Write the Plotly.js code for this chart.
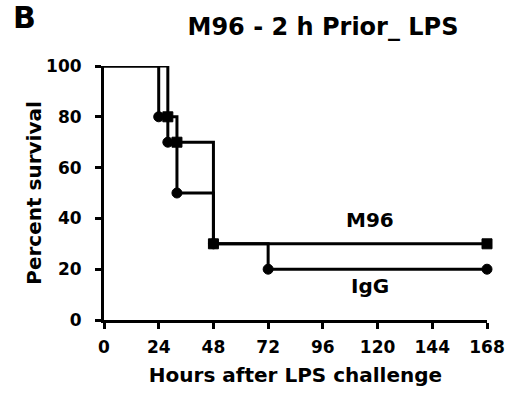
<!DOCTYPE html>
<html>
<head>
<meta charset="utf-8">
<script src="https://cdn.plot.ly/plotly-3.0.1.min.js"></script>
<style>html,body{margin:0;padding:0;background:#fff;}#chart{width:507px;height:402px;}</style>
</head>
<body>
<div id="chart"></div>
<script>
// Kaplan-Meier step data (hours, percent survival)
const igg_hours = [0, 24, 28, 32, 48, 72, 168];
const igg_survival = [100, 80, 70, 50, 30, 20, 20];
const m96_hours = [0, 28, 32, 48, 168];
const m96_survival = [100, 80, 70, 30, 30];
const x_ticks = [0, 24, 48, 72, 96, 120, 144, 168];
const y_ticks = [0, 20, 40, 60, 80, 100];
const series_labels = ['IgG', 'M96'];

const FONT = 'DejaVu Sans';

function sizes(n, s) { return Array.from({length: n}, (_, i) => i === 0 ? 0 : s); }

const traces = [
  {
    x: igg_hours, y: igg_survival, name: series_labels[0],
    mode: 'lines+markers', line: {shape: 'hv', color: '#000', width: 3},
    marker: {symbol: 'circle', color: '#000', opacity: 1, size: sizes(igg_hours.length, 10), line: {width: 1, color: '#000'}},
    cliponaxis: false
  },
  {
    x: m96_hours, y: m96_survival, name: series_labels[1],
    mode: 'lines+markers', line: {shape: 'hv', color: '#000', width: 3},
    marker: {symbol: 'square', color: '#000', opacity: 1, size: sizes(m96_hours.length, 10), line: {width: 1, color: '#000'}},
    cliponaxis: false
  }
];

const axisCommon = {
  showline: true, linecolor: '#000', linewidth: 3,
  ticks: 'outside', ticklen: 6, tickwidth: 3, tickcolor: '#000',
  showgrid: false, zeroline: false,
  tickfont: {family: FONT, size: 17, color: '#000', weight: 'bold'}
};

const layout = {
  width: 507, height: 402,
  margin: {l: 104, r: 20, t: 66, b: 82},
  paper_bgcolor: '#fff', plot_bgcolor: '#fff',
  showlegend: false,
  title: {
    text: 'M96 - 2 h Prior_ LPS',
    font: {family: FONT, size: 24, color: '#000', weight: 'bold'},
    x: 323 / 507, xanchor: 'center', xref: 'container',
    y: 1 - 27 / 402, yanchor: 'middle', yref: 'container'
  },
  xaxis: Object.assign({}, axisCommon, {
    range: [0, 168], tickvals: x_ticks, ticktext: x_ticks.map(String),
    ticklabelstandoff: 4,
    title: {text: 'Hours after LPS challenge', font: {family: FONT, size: 20, color: '#000', weight: 'bold'}, standoff: 12}
  }),
  yaxis: Object.assign({}, axisCommon, {
    range: [0, 100], tickvals: y_ticks, ticktext: y_ticks.map(String),
    ticklabelstandoff: 10,
    title: {text: 'Percent survival', font: {family: FONT, size: 20, color: '#000', weight: 'bold'}, standoff: 0}
  }),
  annotations: [
    {x: 116.5, y: 39.4, xref: 'x', yref: 'y', text: series_labels[1], showarrow: false,
     font: {family: FONT, size: 20, color: '#000', weight: 'bold'}},
    {x: 116.5, y: 13.4, xref: 'x', yref: 'y', text: series_labels[0], showarrow: false,
     font: {family: FONT, size: 20, color: '#000', weight: 'bold'}},
    {x: (24 - 104) / 383, y: (320 - 18) / 254, xref: 'paper', yref: 'paper', text: 'B', showarrow: false,
     xanchor: 'center', yanchor: 'middle',
     font: {family: FONT, size: 30, color: '#000', weight: 'bold'}}
  ]
};

Plotly.newPlot('chart', traces, layout, {displayModeBar: false, staticPlot: true});
</script>
</body>
</html>
